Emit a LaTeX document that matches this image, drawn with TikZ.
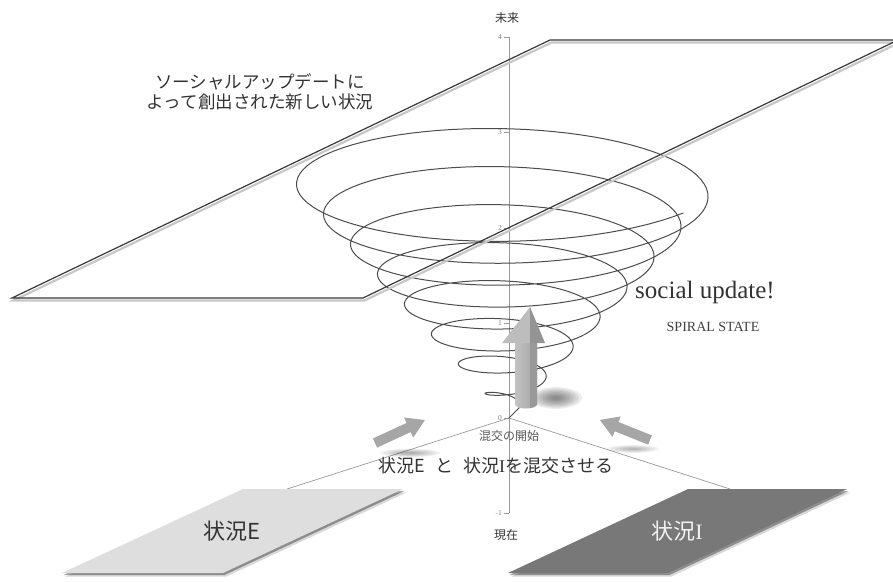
\documentclass[tikz,border=0pt]{standalone}
\usepackage{fontspec}
\setmainfont{Liberation Serif}
\newfontfamily\jp{Noto Sans CJK JP}
\usetikzlibrary{calc}
\begin{document}
\begin{tikzpicture}[x=1pt,y=-1pt,
  planeline/.style={draw=black!78, line width=1.2pt, line join=miter},
  planeshadow/.style={draw=black!22, line width=2.2pt, line join=miter},
  axisline/.style={draw=black!40, line width=0.8pt},
  floorline/.style={draw=black!40, line width=0.7pt},
  ticklabel/.style={font=\fontsize{7.5}{8}\selectfont, text=black!50, anchor=east, inner sep=1pt},
  jplabel/.style={font=\jp\fontsize{17}{20}\selectfont, text=black!80, align=center, inner sep=0pt},
  spiralline/.style={draw=black!70, line width=1pt},
  smallarrow/.style={fill=black!35},
]
\useasboundingbox (0,0) rectangle (893,581);
\clip (0,0) rectangle (893,581);

% ---- coordinates
\coordinate (O) at (509,418);
\coordinate (axtop) at (509,37);
\coordinate (axbot) at (509,513);
\coordinate (floorL) at (287,489);
\coordinate (floorR) at (730,489);
\coordinate (p1) at (12,298);
\coordinate (p2) at (363,298);
\coordinate (p3) at (898,40);
\coordinate (p4) at (550,40);

% ---- floor lines and axis
\draw[floorline] (O) -- (floorL);
\draw[floorline] (O) -- (floorR);
\draw[axisline] (axtop) -- (axbot);
\foreach \v/\yy in {4/37,3/132,2/228,1/323,0/418,-1/513}{
  \draw[axisline] (504,\yy) -- (509,\yy);
  \node[ticklabel] at (503,\yy) {\v};
}

% ---- bottom parallelograms (soft drop shadows)
\fill[black, opacity=0.15] (65.5,576.5) -- (226.5,576.5) -- (406.5,492.5) -- (246.5,492.5) -- cycle;
\fill[black, opacity=0.35] (63.5,575) -- (224.5,575) -- (404.5,491) -- (244.5,491) -- cycle;
\fill[black!13] (62,573) -- (223,573) -- (403,489) -- (243,489) -- cycle;
\fill[black, opacity=0.15] (511.5,576.5) -- (671.5,576.5) -- (850.5,492.5) -- (691.5,492.5) -- cycle;
\fill[black, opacity=0.35] (509.5,575) -- (669.5,575) -- (848.5,491) -- (689.5,491) -- cycle;
\fill[black!53] (508,573) -- (668,573) -- (847,489) -- (688,489) -- cycle;

% ---- spiral
\draw[spiralline] (O) -- (519,408) -- plot[domain=0:7.9, samples=700]
  ({509+(27*\x+10)*cos(360*\x)}, {408-30*\x-0.3*(27*\x+10)*sin(360*\x)});

% ---- top plane
\draw[planeshadow] ($(p1)+(1.5,2.5)$) -- ($(p2)+(1.5,2.5)$) -- ($(p3)+(1.5,2.5)$) -- ($(p4)+(1.5,2.5)$) -- cycle;
\draw[planeline] (p1) -- (p2) -- (p3) -- (p4) -- cycle;

% ---- vertical 3D arrow shadow (blurred)
\foreach \r in {26,23,...,5}{
  \fill[black, opacity=0.07] (556,398) ellipse [x radius=\r, y radius=0.42*\r];
}
% ---- vertical arrow
\shade[left color=black!24, right color=black!36] (515,341) -- (515,404) .. controls (515,410) and (537,410) .. (537,404) -- (537,341) -- cycle;
\fill[black!40] (530,341) -- (530,408) .. controls (534,407) and (537,406) .. (537,404) -- (537,341) -- cycle;
\fill[black!26] (502,343) -- (530,307) -- (530,343) -- cycle;
\fill[black!42] (530,343) -- (530,307) -- (545,343) -- cycle;

% ---- small arrows with shadows
\foreach \r in {30,26,...,6}{
  \fill[black, opacity=0.05] (410,453) ellipse [x radius=\r, y radius=0.14*\r];
}
\begin{scope}[shift={(375,443)}, rotate=24.7]
  \fill[smallarrow] (0,-5) -- (37,-5) -- (37,-11) -- (55,0) -- (37,11) -- (37,5) -- (0,5) -- cycle;
\end{scope}
\foreach \r in {26,22,...,6}{
  \fill[black, opacity=0.05] (633,449) ellipse [x radius=\r, y radius=0.15*\r];
}
\begin{scope}[shift={(650,440)}, rotate=158.2]
  \fill[smallarrow] (0,-5) -- (36,-5) -- (36,-11) -- (54,0) -- (36,11) -- (36,5) -- (0,5) -- cycle;
\end{scope}

% ---- texts
\node[jplabel, font=\jp\fontsize{12}{14}\selectfont] (future) at (507,18) {未来};
\node[jplabel, font=\jp\fontsize{12}{14}\selectfont] (present) at (506,535) {現在};
\node[jplabel, font=\jp\fontsize{17.5}{20}\selectfont] (newsit) at (260,92) {ソーシャルアップデートに\\よって創出された新しい状況};
\node[jplabel, font=\jp\fontsize{18}{20}\selectfont] (mix) at (496,466) {状況E\hspace{0.55em}と\hspace{0.55em}状況{\rmfamily I}を混交させる};
\node[jplabel, font=\jp\fontsize{12}{14}\selectfont, text=black!65] (start) at (509,436) {混交の開始};
\node[jplabel, font=\jp\fontsize{22}{24}\selectfont] (sitE) at (232,531) {状況E};
\node[jplabel, font=\jp\fontsize{22}{24}\selectfont, text=black!5] (sitI) at (677,531) {状況{\rmfamily I}};
\node[font=\fontsize{25}{28}\selectfont, text=black!80, inner sep=0pt] (social) at (705,292) {social update!};
\node[font=\fontsize{14}{16}\selectfont, text=black!75, inner sep=0pt] (spiral) at (713,327) {SPIRAL STATE};
\end{tikzpicture}
\end{document}
